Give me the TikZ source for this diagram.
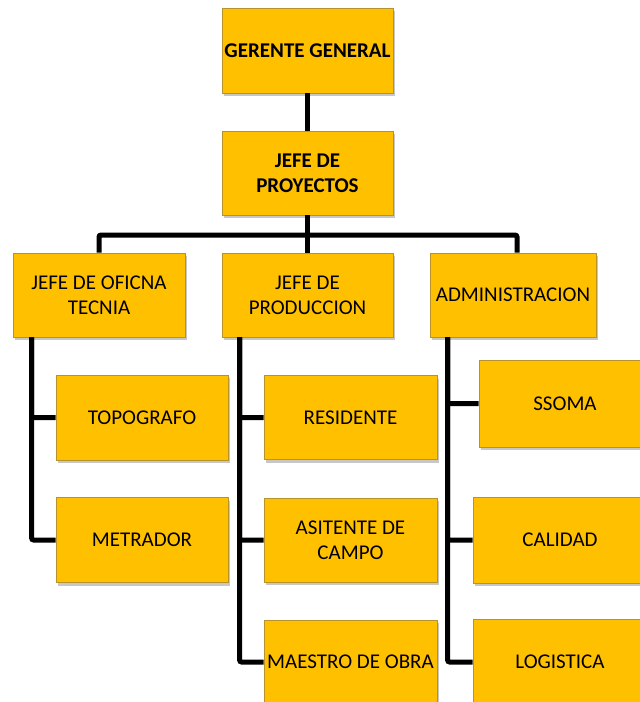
\documentclass[tikz,border=0pt]{standalone}
\usepackage{fontspec}
\setmainfont{Carlito}
\usetikzlibrary{shadows}
\definecolor{boxgold}{HTML}{FFC000}
\definecolor{boxedge}{HTML}{B8922A}
\tikzset{
  orgbox/.style={draw=boxedge, line width=0.8pt, fill=boxgold, rectangle,
    minimum width=#1, minimum height=84pt, inner sep=0pt, align=center,
    font=\fontsize{21}{25}\selectfont, text=black,
    drop shadow={shadow xshift=2pt, shadow yshift=-3pt, fill=black, opacity=0.22}},
  orgbox/.default=172pt,
  conn/.style={draw=black, line width=5pt, rounded corners=2pt}
}
\begin{document}
\begin{tikzpicture}[x=1pt, y=-1pt]
  \useasboundingbox (0,0) rectangle (640,702);
  \coordinate (bar) at (307.5,235);
  % boxes
  \node[orgbox=171pt, minimum height=85pt, font=\fontsize{21}{25}\selectfont\bfseries] (gg) at (307.5,50.5) {GERENTE GENERAL};
  \node[orgbox=171pt, font=\fontsize{21}{25}\selectfont\bfseries] (jp) at (307.5,173) {JEFE DE\\PROYECTOS};
  \node[orgbox=172pt] (jot) at (99,295) {JEFE DE OFICNA\\TECNIA};
  \node[orgbox=171pt] (jpr) at (307.5,295) {JEFE DE\\PRODUCCION};
  \node[orgbox=166pt] (adm) at (513,295) {ADMINISTRACION};
  \node[orgbox=172pt, minimum height=85pt] (topo) at (142,417.5) {TOPOGRAFO};
  \node[orgbox=172pt, minimum height=85pt] (metr) at (142,540) {METRADOR};
  \node[orgbox=173pt] (res) at (350.5,417.5) {RESIDENTE};
  \node[orgbox=173pt] (asi) at (350.5,540) {ASITENTE DE\\CAMPO};
  \node[orgbox=173pt] (mae) at (350.5,662) {MAESTRO DE OBRA};
  \node[orgbox=172pt, minimum height=87pt] (ssoma) at (565,403.5) {SSOMA};
  \node[orgbox=174pt, minimum height=86pt] (cal) at (560,540) {CALIDAD};
  \node[orgbox=174pt, minimum height=86pt] (log) at (560,662) {LOGISTICA};
  % connectors
  \path[conn] (gg.south) -- (jp.north);
  \path[conn] (jp.south) -- (bar);
  \path[conn] (bar) -| (jot.north);
  \path[conn] (bar) -- (jpr.north);
  \path[conn] (bar) -| ([xshift=4pt]adm.north);
  \path[conn] ([xshift=19pt]jot.south west) |- (topo.west);
  \path[conn] ([xshift=19pt]jot.south west) |- (metr.west);
  \path[conn] ([xshift=18pt]jpr.south west) |- (res.west);
  \path[conn] ([xshift=18pt]jpr.south west) |- (asi.west);
  \path[conn] ([xshift=18pt]jpr.south west) |- (mae.west);
  \path[conn] ([xshift=18pt]adm.south west) |- (ssoma.west);
  \path[conn] ([xshift=18pt]adm.south west) |- (cal.west);
  \path[conn] ([xshift=18pt]adm.south west) |- (log.west);
\end{tikzpicture}
\end{document}
